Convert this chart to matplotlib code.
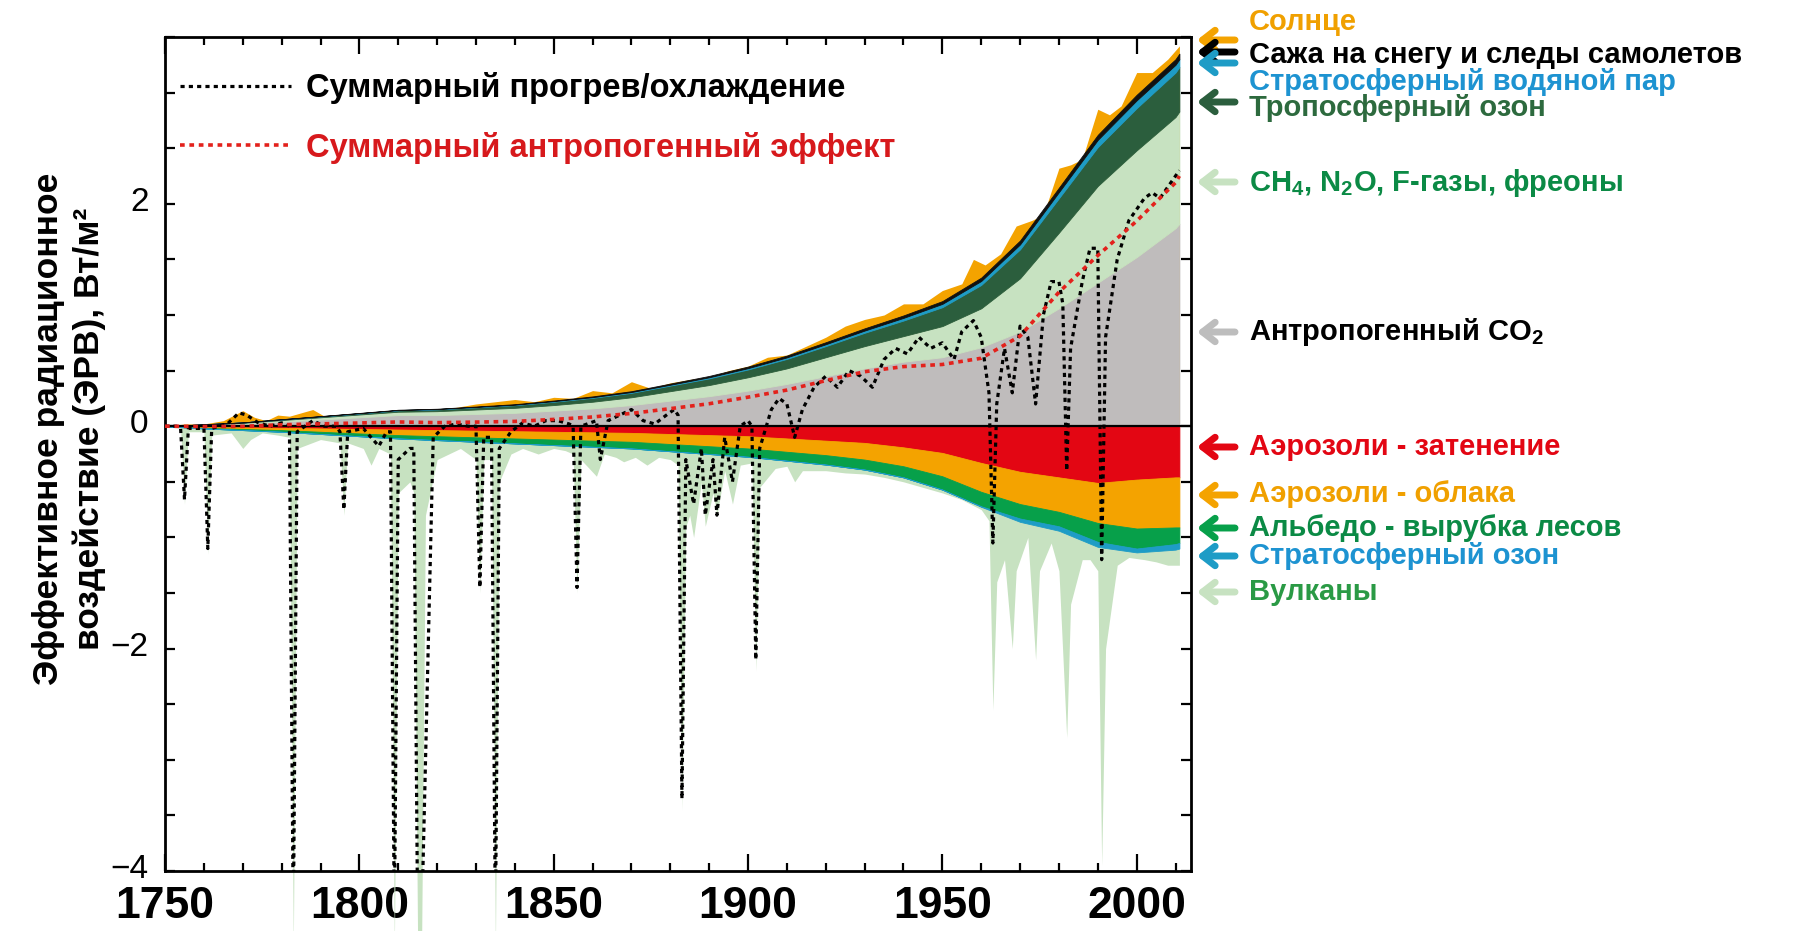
import numpy as np
import matplotlib.pyplot as plt
import matplotlib.transforms as mtransforms
from matplotlib.ticker import MultipleLocator, FixedLocator, FuncFormatter

plt.rcParams['font.family'] = ['Liberation Sans', 'DejaVu Sans']
plt.rcParams['mathtext.fontset'] = 'custom'
plt.rcParams['mathtext.rm'] = 'Liberation Sans:bold'
plt.rcParams['mathtext.bf'] = 'Liberation Sans:bold'
plt.rcParams['mathtext.it'] = 'Liberation Sans:bold'

# --- forcing components, W/m2 (decadal) ---
years = [1750, 1760, 1770, 1780, 1790, 1800, 1810, 1820, 1830, 1840, 1850, 1860, 1870, 1880,
         1890, 1900, 1910, 1920, 1930, 1940, 1950, 1960, 1970, 1980, 1990, 2000, 2010, 2011]

co2 = [0, 0.01, 0.02, 0.04, 0.06, 0.08, 0.10, 0.10, 0.11, 0.12, 0.14, 0.16, 0.19, 0.23,
       0.27, 0.32, 0.38, 0.45, 0.52, 0.58, 0.62, 0.71, 0.85, 1.06, 1.29, 1.52, 1.78, 1.82]
ghg_other = [0, 0.005, 0.01, 0.015, 0.02, 0.025, 0.03, 0.035, 0.04, 0.045, 0.05, 0.06, 0.07, 0.085,
             0.10, 0.12, 0.14, 0.17, 0.20, 0.23, 0.28, 0.35, 0.48, 0.68, 0.87, 0.96, 1.00, 1.01]
trop_o3 = [0, 0.002, 0.004, 0.006, 0.008, 0.01, 0.013, 0.016, 0.02, 0.024, 0.03, 0.035, 0.04, 0.05,
           0.06, 0.07, 0.085, 0.10, 0.12, 0.14, 0.17, 0.21, 0.26, 0.31, 0.35, 0.38, 0.40, 0.40]
strat_h2o = [0, 0, 0, 0.001, 0.001, 0.002, 0.002, 0.003, 0.003, 0.004, 0.005, 0.006, 0.007, 0.008,
             0.01, 0.012, 0.014, 0.017, 0.02, 0.024, 0.03, 0.036, 0.045, 0.055, 0.065, 0.07, 0.07, 0.07]
bc_snow = [0, 0, 0, 0.001, 0.002, 0.002, 0.003, 0.003, 0.004, 0.005, 0.006, 0.007, 0.008, 0.01,
           0.012, 0.014, 0.016, 0.018, 0.02, 0.022, 0.025, 0.03, 0.035, 0.04, 0.045, 0.05, 0.05, 0.05]

aer_ari = [0, 0.005, 0.01, 0.015, 0.02, 0.025, 0.03, 0.035, 0.04, 0.045, 0.05, 0.055, 0.06, 0.07,
           0.08, 0.09, 0.11, 0.13, 0.15, 0.19, 0.24, 0.33, 0.41, 0.46, 0.51, 0.48, 0.46, 0.46]
aer_aci = [0, 0.01, 0.015, 0.02, 0.03, 0.04, 0.05, 0.055, 0.06, 0.065, 0.07, 0.075, 0.08, 0.09,
           0.10, 0.11, 0.12, 0.13, 0.15, 0.17, 0.21, 0.26, 0.29, 0.31, 0.36, 0.44, 0.45, 0.45]
albedo = [0, 0.005, 0.01, 0.015, 0.02, 0.025, 0.03, 0.035, 0.04, 0.045, 0.05, 0.055, 0.06, 0.065,
          0.07, 0.075, 0.08, 0.085, 0.09, 0.10, 0.12, 0.13, 0.13, 0.13, 0.17, 0.18, 0.15, 0.14]
strat_o3 = [0, 0, 0, 0, 0, 0, 0, 0, 0, 0, 0, 0, 0, 0,
            0, 0, 0, 0, 0, 0, 0, 0.005, 0.03, 0.04, 0.045, 0.035, 0.05, 0.05]

# upper edge of the solar layer
solar_years = [1750, 1755, 1760, 1765, 1770, 1773, 1776, 1779, 1782, 1785, 1788, 1791, 1795, 1800,
               1805, 1810, 1815, 1820, 1825, 1830, 1835, 1840, 1845, 1850, 1855, 1860, 1865, 1870,
               1875, 1880, 1885, 1890, 1895, 1900, 1905, 1910, 1915, 1920, 1925, 1930, 1935, 1940,
               1945, 1950, 1955, 1958, 1961, 1965, 1969, 1973, 1976, 1980, 1983, 1986, 1990, 1993,
               1996, 2000, 2004, 2008, 2011]
solar_top = [0.0, 0.02, 0.02, 0.05, 0.14, 0.08, 0.05, 0.10, 0.09, 0.12, 0.15, 0.09, 0.06, 0.10,
             0.12, 0.13, 0.14, 0.14, 0.17, 0.20, 0.22, 0.24, 0.22, 0.26, 0.25, 0.32, 0.30, 0.40,
             0.34, 0.39, 0.42, 0.44, 0.50, 0.54, 0.62, 0.64, 0.72, 0.80, 0.90, 0.96, 1.00, 1.10,
             1.10, 1.22, 1.28, 1.50, 1.45, 1.55, 1.80, 1.85, 1.90, 2.32, 2.35, 2.40, 2.85, 2.80,
             2.88, 3.18, 3.18, 3.30, 3.42]

# lower edge of the volcanic layer
volc_years = [1750, 1754, 1755, 1756, 1760, 1761, 1762, 1767, 1770, 1772, 1775, 1779, 1782, 1783,
              1784, 1790, 1795, 1796, 1797, 1801, 1803, 1805, 1808, 1809, 1810, 1813, 1814, 1815,
              1816, 1817, 1820, 1823, 1826, 1830, 1831, 1832, 1834, 1835, 1836, 1839, 1842, 1846,
              1850, 1853, 1855, 1856, 1857, 1861, 1863, 1866, 1868, 1871, 1874, 1877, 1880, 1882,
              1883, 1884, 1885, 1886, 1888, 1889, 1891, 1892, 1894, 1896, 1898, 1901, 1902, 1903,
              1907, 1910, 1912, 1914, 1920, 1925, 1930, 1935, 1940, 1945, 1950, 1955, 1960, 1962,
              1963, 1964, 1966, 1968, 1969, 1972, 1974, 1975, 1978, 1980, 1982, 1983, 1986, 1988,
              1990, 1991, 1992, 1995, 1998, 2002, 2005, 2008, 2011]
volc_bottom = [0.0, -0.02, -0.7, -0.05, -0.05, -1.15, -0.08, -0.06, -0.2, -0.12, -0.06, -0.08, -0.1, -4.7,
               -0.2, -0.12, -0.15, -0.8, -0.15, -0.2, -0.35, -0.2, -0.25, -4.7, -0.6, -0.5, -0.6, -4.7,
               -4.7, -0.8, -0.3, -0.25, -0.2, -0.3, -1.5, -0.3, -0.3, -4.7, -0.5, -0.25, -0.2, -0.25,
               -0.2, -0.22, -0.25, -1.5, -0.3, -0.45, -0.25, -0.28, -0.32, -0.28, -0.35, -0.28, -0.3, -0.35,
               -3.45, -0.9, -0.8, -1.0, -0.5, -0.9, -0.6, -0.8, -0.4, -0.7, -0.35, -0.33, -2.2, -0.55,
               -0.38, -0.36, -0.5, -0.4, -0.4, -0.42, -0.43, -0.46, -0.5, -0.55, -0.6, -0.66, -0.75, -0.85,
               -2.55, -1.4, -1.2, -2.0, -1.3, -1.0, -2.1, -1.3, -1.05, -1.3, -2.8, -1.6, -1.2, -1.2,
               -1.3, -3.95, -2.0, -1.25, -1.18, -1.2, -1.22, -1.25, -1.25]

# total (natural + anthropogenic) forcing
total_years = [1750, 1753, 1754, 1755, 1756, 1759, 1760, 1761, 1762, 1766, 1769, 1771, 1774, 1777,
               1780, 1782, 1783, 1784, 1788, 1791, 1794, 1795, 1796, 1797, 1801, 1803, 1805, 1807,
               1808, 1809, 1810, 1813, 1814, 1815, 1816, 1819, 1822, 1825, 1828, 1830, 1831, 1832,
               1834, 1835, 1836, 1839, 1842, 1845, 1848, 1851, 1854, 1855, 1856, 1857, 1861, 1862,
               1864, 1867, 1870, 1873, 1876, 1879, 1881, 1882, 1883, 1884, 1886, 1888, 1889, 1891,
               1892, 1894, 1896, 1898, 1900, 1901, 1902, 1903, 1906, 1908, 1910, 1912, 1914, 1917,
               1920, 1923, 1926, 1929, 1932, 1935, 1938, 1941, 1944, 1947, 1950, 1953, 1955, 1958,
               1960, 1962, 1963, 1964, 1966, 1968, 1970, 1972, 1974, 1976, 1978, 1980, 1981, 1982,
               1983, 1986, 1988, 1990, 1991, 1992, 1995, 1998, 2000, 2002, 2004, 2006, 2008, 2011]
total = [0.0, 0.0, -0.02, -0.66, -0.02, -0.02, -0.02, -1.1, -0.02, 0.02, 0.12, 0.1, 0.03, 0.0,
         0.03, 0.0, -4.5, -0.05, 0.05, 0.0, 0.0, -0.05, -0.75, -0.05, -0.02, -0.1, -0.18, -0.05,
         -0.05, -4.5, -0.3, -0.2, -0.2, -4.5, -4.5, -0.1, 0.0, 0.02, 0.0, 0.0, -1.45, -0.1,
         -0.1, -4.5, -0.2, -0.05, 0.03, 0.0, 0.05, 0.05, 0.02, 0.0, -1.45, 0.0, 0.05, -0.3,
         0.05, 0.1, 0.15, 0.05, 0.02, 0.1, 0.15, 0.1, -3.35, -0.3, -0.7, -0.2, -0.8, -0.3,
         -0.8, -0.1, -0.5, 0.0, 0.05, 0.0, -2.1, -0.2, 0.15, 0.25, 0.2, -0.1, 0.15, 0.35,
         0.45, 0.35, 0.5, 0.45, 0.35, 0.6, 0.7, 0.65, 0.8, 0.7, 0.75, 0.6, 0.85, 0.95,
         0.8, 0.3, -1.05, 0.2, 0.7, 0.3, 0.9, 0.8, 0.2, 1.0, 1.3, 1.3, 1.1, -0.4,
         0.7, 1.3, 1.6, 1.6, -1.2, 0.8, 1.5, 1.85, 1.95, 2.05, 2.1, 2.05, 2.15, 2.3]

pos_layers = [(co2, '#bfbcbc'), (ghg_other, '#c7e2c1'), (trop_o3, '#2b5e3d'),
              (strat_h2o, '#1e9cc6'), (bc_snow, '#111111')]
neg_layers = [(aer_ari, '#e30613'), (aer_aci, '#f4a300'), (albedo, '#07a04a'),
              (strat_o3, '#1e9cc6')]

fig = plt.figure(figsize=(18, 9.31), dpi=100)
ax = fig.add_axes([0.0917, 0.0644, 0.57, 0.8959])

x = np.array(years)

# natural layers sit behind the anthropogenic stack
ax.fill_between(solar_years, 0, solar_top, color='#f4a300', lw=0, zorder=2)
vf = ax.fill_between(volc_years, 0, volc_bottom, color='#c7e2c1', lw=0, zorder=2)
vf.set_clip_on(False)

pos_base = np.zeros(len(x))
for vals, col in pos_layers:
    top = pos_base + np.array(vals)
    ax.fill_between(x, pos_base, top, color=col, ec=col, lw=0.6, zorder=3)
    pos_base = top

neg_base = np.zeros(len(x))
for vals, col in neg_layers:
    bot = neg_base - np.array(vals)
    ax.fill_between(x, bot, neg_base, color=col, ec=col, lw=0.6, zorder=3)
    neg_base = bot

anthro = pos_base + neg_base

ax.axhline(0, color='black', lw=1.6, zorder=4)
l_tot, = ax.plot(total_years, total, color='black', lw=2.3, ls=(0, (1.3, 1.3)), zorder=6)
l_ant, = ax.plot(x, anthro, color='#e3211c', lw=2.6, ls=(0, (1.3, 1.3)), zorder=7)

ax.set_xlim(1750, 2014)
ax.set_ylim(-4, 3.5)

ax.xaxis.set_major_locator(MultipleLocator(50))
ax.xaxis.set_minor_locator(MultipleLocator(10))
ax.yaxis.set_major_locator(FixedLocator([-4, -2, 0, 2]))
ax.yaxis.set_minor_locator(MultipleLocator(0.5))
ax.yaxis.set_major_formatter(FuncFormatter(lambda v, p: f'{v:.0f}'.replace('-', '\u2212')))
ax.tick_params(which='both', direction='in', top=True, right=True, width=1.6)
ax.tick_params(axis='x', which='major', length=12, pad=10.5, labelsize=32)
ax.tick_params(axis='x', which='minor', length=6)
ax.tick_params(axis='y', which='both', length=7, labelsize=24, pad=12)
for lab in ax.get_xticklabels():
    lab.set_fontweight('bold')
# y labels sit a little above their ticks
lift = mtransforms.ScaledTranslation(0, 5 / 100, fig.dpi_scale_trans)
for lab in ax.get_yticklabels():
    lab.set_transform(lab.get_transform() + lift)
for sp in ax.spines.values():
    sp.set_linewidth(2)

ax.set_ylabel('Эффективное радиационное\nвоздействие (ЭРВ), Вт/м²',
              fontsize=25.5, fontweight='bold', linespacing=1.25)
ax.yaxis.set_label_coords(-0.058, 0.53)

ax.legend([l_tot, l_ant], ['Суммарный прогрев/охлаждение', 'Суммарный антропогенный эффект'],
          loc='upper left', bbox_to_anchor=(0.015, 0.958), frameon=False, borderpad=0,
          borderaxespad=0, handlelength=3.4, handletextpad=0.45, labelspacing=0.85,
          labelcolor=['black', '#d7191c'], prop={'weight': 'bold', 'size': 23.5})

# right-hand key: text and arrow rows, y in image pixels from the top
key_labels = ['Солнце', 'Сажа на снегу и следы самолетов', 'Стратосферный водяной пар',
              'Тропосферный озон', 'CH$_4$, N$_2$O, F-газы, фреоны', 'Антропогенный CO$_2$',
              'Аэрозоли - затенение', 'Аэрозоли - облака', 'Альбедо - вырубка лесов',
              'Стратосферный озон', 'Вулканы']
key_text_colors = ['#f0a000', '#000000', '#1d93d1', '#2d6a3e', '#0b8a45', '#000000',
                   '#e30613', '#f0a000', '#0b8a45', '#1d93d1', '#2a9a45']
key_arrow_colors = ['#f4a300', '#000000', '#1e9cc6', '#2b5e3d', '#c7e2c1', '#bdbdbd',
                    '#e30613', '#f4a300', '#07a04a', '#1e9cc6', '#c7e2c1']
key_text_y = [22, 55, 82, 108, 183, 332, 447, 494, 528, 556, 592]
key_arrow_y = [40, 52, 63, 102, 182, 332, 447, 495, 528, 556, 592]

W, H = 1800, 931
for lab, tc, ac, ty, ay in zip(key_labels, key_text_colors, key_arrow_colors, key_text_y, key_arrow_y):
    fig.text(1249 / W, 1 - ty / H, lab, color=tc, fontsize=21, fontweight='bold', va='center', ha='left')
    ax.annotate('', xy=(1197 / W, 1 - ay / H), xytext=(1235 / W, 1 - ay / H),
                xycoords='figure fraction', textcoords='figure fraction',
                arrowprops=dict(arrowstyle='->,head_length=0.45,head_width=0.35', lw=5,
                                color=ac, mutation_scale=20, shrinkA=0, shrinkB=0))

fig.savefig('out.png', dpi=100)
